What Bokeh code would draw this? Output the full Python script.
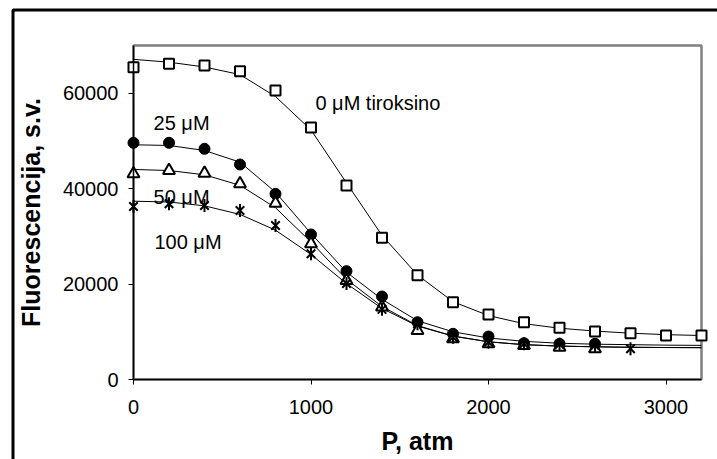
import math
from bokeh.plotting import figure
from bokeh.models import Label, BoxAnnotation, FixedTicker, Range1d, LinearAxis
from bokeh.embed import file_html
from bokeh.resources import INLINE

# pressure (atm)
P = [0, 200, 400, 600, 800, 1000, 1200, 1400, 1600, 1800, 2000, 2200, 2400, 2600, 2800, 3000, 3200]

# measured points
P_0 = P[:]
F_0 = [65460, 66170, 65810, 64620, 60570, 52820, 40660, 29700, 21870, 16200, 13630, 12010, 10830, 10060, 9710, 9220, 9220]
P_25 = P[:14]
F_25 = [49610, 49610, 48350, 45060, 38920, 30390, 22710, 17400, 12010, 9580, 9010, 7610, 7480, 7480]
P_50 = P[:14]
F_50 = [43110, 43810, 43240, 41020, 36950, 28440, 20750, 15200, 10270, 8530, 7480, 7130, 6770, 6430]
P_100 = P[:15]
F_100 = [36260, 36830, 36470, 35420, 32280, 26350, 20120, 14700, 11670, 8870, 7820, 7480, 7400, 7130, 6430]

# fitted curves
FIT_0 = [67100, 66500, 65500, 63900, 59300, 52300, 41200, 30200, 21900, 16300, 13400, 11700, 10750, 10150, 9700, 9400, 9220]
FIT_25 = [49190, 49050, 48000, 45550, 39260, 30600, 22500, 16800, 12300, 10000, 8700, 8000, 7600, 7400, 7300, 7200, 7150]
FIT_50 = [44020, 43800, 42900, 40700, 36000, 28800, 21000, 15300, 11300, 9100, 7900, 7300, 7000, 6850, 6750, 6700, 6700]
FIT_100 = [37370, 37200, 36400, 34600, 31300, 26200, 20100, 14900, 11200, 9100, 7900, 7300, 7000, 6850, 6750, 6700, 6650]

x_ticks = [0, 1000, 2000, 3000]
y_ticks = [0, 20000, 40000, 60000]
X_MAX = 3200
Y_MAX = 70000

FONT = "Liberation Sans"

# layout: axes box in canvas pixels
AX_L, AX_R, AX_T, AX_B = 133, 701, 45, 379
FR_L, FR_T = 10, 7          # frame starts here, covers rest of canvas
W, H = 717, 459
SX = (AX_R - AX_L) / X_MAX
SY = (AX_B - AX_T) / Y_MAX


def px2x(px):
    return (px - AX_L) / SX


def py2y(py):
    return (AX_B - py) / SY


p = figure(width=W, height=H, output_backend="svg", toolbar_location=None,
           x_axis_location=None, y_axis_location=None,
           x_range=Range1d(px2x(FR_L), px2x(W)), y_range=Range1d(py2y(H), py2y(FR_T)),
           min_border_left=FR_L, min_border_right=0, min_border_top=FR_T, min_border_bottom=0)
p.background_fill_color = "white"
p.border_fill_color = "white"
p.grid.visible = False
p.outline_line_color = None

xaxis = LinearAxis(fixed_location=0, bounds=(0, X_MAX), ticker=FixedTicker(ticks=x_ticks),
                   axis_label="P, atm")
yaxis = LinearAxis(fixed_location=0, bounds=(0, Y_MAX), ticker=FixedTicker(ticks=y_ticks),
                   axis_label="Fluorescencija, s.v.")
for ax in (xaxis, yaxis):
    ax.axis_line_color = "black"
    ax.axis_line_width = 1.5
    ax.major_tick_line_color = "black"
    ax.major_tick_out = 5
    ax.major_tick_in = 0
    ax.minor_tick_line_color = None
    ax.major_label_text_font = FONT
    ax.major_label_text_font_size = "20px"
    ax.major_label_text_color = "black"
    ax.axis_label_text_font = FONT
    ax.axis_label_text_font_size = "25px"
    ax.axis_label_text_font_style = "bold"
    ax.axis_label_text_color = "black"
xaxis.major_label_standoff = 15
xaxis.axis_label_standoff = 10
yaxis.major_label_standoff = 10
yaxis.axis_label_standoff = 15
p.add_layout(xaxis, "below")
p.add_layout(yaxis, "left")

# grey plot-area frame (top and right visible; left/bottom under the axes)
p.add_layout(BoxAnnotation(left=0, right=X_MAX, bottom=0, top=Y_MAX, level="underlay",
                           fill_alpha=0, line_color="#808080", line_alpha=1.0, line_width=2.5))

# outer black border of the chart
p.add_layout(BoxAnnotation(left=px2x(12.5), right=px2x(W + 40), top=py2y(9.5), bottom=py2y(H + 40),
                           level="underlay", fill_alpha=0, line_color="black", line_alpha=1.0,
                           line_width=3))

# fitted lines
for fit in (FIT_0, FIT_25, FIT_50, FIT_100):
    p.line(P, fit, line_color="black", line_width=1)

# markers
p.scatter(P_0, F_0, marker="square", size=10, fill_color="white", line_color="black", line_width=2)
p.scatter(P_25, F_25, marker="circle", size=11, fill_color="black", line_color="black")
p.scatter(P_50, F_50, marker="triangle", size=12, fill_color="white", line_color="black", line_width=2)
p.scatter(P_100, F_100, marker="x", size=12, line_color="black", line_width=2)
p.scatter(P_100, F_100, marker="dash", size=13, angle=math.pi / 2, line_color="black", line_width=2)

# series labels
for txt, lx, ly in [("0 μM tiroksino", 1025, 57850), ("25 μM", 113, 53660),
                    ("50 μM", 113, 38150), ("100 μM", 118, 28920)]:
    p.add_layout(Label(x=lx, y=ly, text=txt, text_font=FONT, text_font_size="20px",
                       text_color="black", text_baseline="alphabetic"))

open("out.html", "w").write(file_html(p, INLINE))
